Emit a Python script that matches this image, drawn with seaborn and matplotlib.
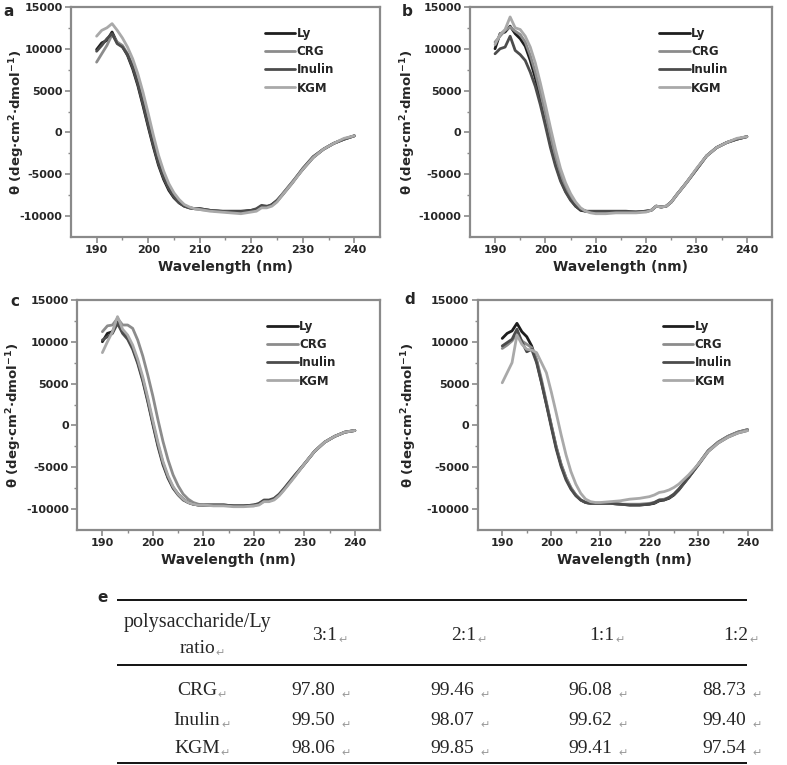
import numpy as np
import pandas as pd
import matplotlib
matplotlib.use('Agg')
import matplotlib.pyplot as plt
import seaborn as sns

# wavelength grid (nm) shared by all CD spectra
wavelength = [190, 191, 192, 193, 194, 195, 196, 197, 198, 199, 200, 201, 202, 203, 204, 205, 206, 207, 208, 209,
              210, 212, 214, 216, 218, 220, 221, 222, 223, 224, 225, 226, 228, 230, 232, 234, 236, 238, 240]
samples = ['Ly', 'CRG', 'Inulin', 'KGM']

# panel a, 3:1
ly_a = [9900, 10700, 11000, 12000, 10700, 10300, 9200, 7600, 5600, 3200, 700, -1700, -3900, -5600, -6900, -7800, -8400, -8800, -9000, -9100,
        -9100, -9300, -9400, -9400, -9400, -9300, -9200, -8800, -8900, -8600, -8100, -7400, -5900, -4400, -3000, -2000, -1300, -800, -400]
crg_a = [8400, 9400, 10400, 11700, 10800, 10400, 9400, 8000, 6000, 3700, 1200, -1300, -3500, -5300, -6600, -7600, -8300, -8700, -9000, -9100,
         -9200, -9300, -9400, -9500, -9500, -9400, -9200, -8800, -8900, -8700, -8200, -7400, -5900, -4300, -2900, -2000, -1300, -800, -400]
inulin_a = [9700, 10400, 11200, 11800, 10600, 10200, 9300, 7800, 5800, 3400, 900, -1500, -3700, -5400, -6700, -7700, -8400, -8800, -9000, -9100,
            -9100, -9300, -9400, -9500, -9500, -9300, -9100, -8700, -8800, -8700, -8200, -7500, -6000, -4300, -2900, -2000, -1300, -800, -400]
kgm_a = [11500, 12200, 12500, 13000, 12200, 11300, 10200, 8800, 7000, 4800, 2300, -300, -2700, -4600, -6100, -7200, -8000, -8600, -8900, -9100,
         -9200, -9400, -9500, -9600, -9700, -9500, -9400, -9000, -9000, -8800, -8300, -7500, -6000, -4400, -3000, -2000, -1300, -700, -400]

# panel b, 2:1
ly_b = [10000, 11800, 12000, 12700, 11800, 11200, 10300, 8600, 6500, 4000, 1300, -1400, -3700, -5600, -7000, -8000, -8800, -9300, -9400, -9500,
        -9500, -9500, -9500, -9500, -9500, -9400, -9300, -8800, -8900, -8800, -8300, -7500, -6000, -4400, -2800, -1800, -1200, -800, -500]
crg_b = [10800, 11500, 12200, 12600, 12100, 11700, 10800, 9200, 7200, 4800, 2200, -500, -3000, -5000, -6600, -7700, -8600, -9100, -9400, -9500,
         -9500, -9600, -9500, -9500, -9500, -9400, -9300, -8800, -8900, -8800, -8300, -7500, -6000, -4400, -2800, -1800, -1200, -800, -500]
inulin_b = [9400, 10000, 10200, 11500, 9800, 9300, 8600, 7200, 5500, 3300, 800, -1800, -4000, -5800, -7100, -8100, -8800, -9200, -9400, -9400,
            -9400, -9400, -9400, -9400, -9500, -9400, -9300, -8800, -8900, -8800, -8300, -7500, -6000, -4400, -2800, -1800, -1200, -800, -500]
kgm_b = [10500, 11700, 12300, 13800, 12500, 12300, 11500, 10200, 8300, 5900, 3300, 600, -2000, -4300, -6000, -7300, -8300, -9000, -9400, -9600,
         -9700, -9700, -9600, -9600, -9600, -9500, -9300, -8800, -8900, -8800, -8300, -7500, -6000, -4300, -2800, -1800, -1200, -700, -500]

# panel c, 1:1
ly_c = [10000, 11000, 11200, 12500, 11200, 10500, 9300, 7600, 5500, 3000, 300, -2300, -4500, -6200, -7400, -8200, -8800, -9200, -9400, -9500,
        -9500, -9500, -9500, -9600, -9600, -9500, -9400, -9000, -9000, -8800, -8300, -7600, -6100, -4600, -3100, -2000, -1300, -800, -600]
crg_c = [11200, 11900, 12000, 12800, 12000, 12000, 11600, 10200, 8300, 6000, 3500, 700, -1900, -4100, -5900, -7200, -8200, -8800, -9200, -9400,
         -9500, -9500, -9500, -9600, -9600, -9600, -9400, -9000, -9000, -8800, -8300, -7600, -6100, -4600, -3100, -2000, -1300, -800, -600]
inulin_c = [10200, 10600, 11000, 12200, 11000, 10300, 9100, 7400, 5300, 2800, 100, -2500, -4700, -6300, -7500, -8300, -8900, -9200, -9400, -9500,
            -9500, -9500, -9500, -9600, -9600, -9500, -9300, -8900, -8900, -8700, -8200, -7500, -6000, -4600, -3100, -2000, -1300, -800, -600]
kgm_c = [8700, 10000, 11200, 13000, 11500, 10800, 9600, 7900, 5800, 3300, 600, -2000, -4300, -6000, -7300, -8200, -8800, -9200, -9400, -9500,
         -9500, -9600, -9600, -9700, -9700, -9600, -9500, -9100, -9100, -8900, -8400, -7700, -6200, -4600, -3100, -2000, -1300, -800, -600]

# panel d, 1:2
ly_d = [10400, 11000, 11300, 12200, 11200, 10600, 9500, 7700, 5200, 2600, 0, -2600, -4700, -6300, -7500, -8300, -8900, -9200, -9300, -9300,
        -9300, -9300, -9400, -9500, -9500, -9400, -9300, -9000, -8900, -8700, -8300, -7700, -6200, -4600, -3000, -2000, -1300, -800, -500]
crg_d = [9200, 9600, 10100, 11000, 10100, 9700, 9300, 7900, 5500, 2800, 100, -2500, -4600, -6200, -7400, -8300, -8900, -9200, -9300, -9300,
         -9300, -9300, -9400, -9400, -9400, -9300, -9200, -8900, -8800, -8600, -8200, -7600, -6200, -4600, -3000, -2000, -1300, -800, -500]
inulin_d = [9500, 9900, 10300, 11500, 10000, 8800, 9100, 7500, 5100, 2500, -200, -2800, -4900, -6500, -7600, -8400, -8900, -9200, -9300, -9300,
            -9300, -9300, -9400, -9500, -9500, -9400, -9200, -8900, -8900, -8600, -8200, -7600, -6200, -4700, -3100, -2100, -1400, -900, -600]
kgm_d = [5100, 6300, 7500, 10800, 9700, 9100, 9000, 8700, 7500, 6300, 4000, 1500, -1100, -3500, -5500, -7000, -8100, -8800, -9100, -9200,
         -9200, -9100, -9000, -8800, -8700, -8500, -8300, -8000, -7900, -7700, -7400, -7000, -5900, -4600, -3100, -2100, -1400, -900, -600]

# table e
ratios = ['3:1', '2:1', '1:1', '1:2']
polysaccharides = ['CRG', 'Inulin', 'KGM']
crg_values = ['97.80', '99.46', '96.08', '88.73']
inulin_values = ['99.50', '98.07', '99.62', '99.40']
kgm_values = ['98.06', '99.85', '99.41', '97.54']

sns.set_style('ticks')
plt.rcParams['font.family'] = ['DejaVu Sans']
plt.rcParams['axes.unicode_minus'] = False
plt.rcParams['mathtext.default'] = 'bf'

palette = {'Ly': '#1e1e1e', 'CRG': '#8c8c8c', 'Inulin': '#4c4c4c', 'KGM': '#a9a9a9'}
frame = '#8a8a8a'

panels = {
    'a': [ly_a, crg_a, inulin_a, kgm_a],
    'b': [ly_b, crg_b, inulin_b, kgm_b],
    'c': [ly_c, crg_c, inulin_c, kgm_c],
    'd': [ly_d, crg_d, inulin_d, kgm_d],
}
boxes = {
    'a': [0.090, 0.690, 0.393, 0.301],
    'b': [0.597, 0.690, 0.384, 0.301],
    'c': [0.098, 0.307, 0.385, 0.301],
    'd': [0.607, 0.307, 0.374, 0.301],
}
ylabel_x = {'a': -0.142, 'b': -0.172, 'c': -0.175, 'd': -0.200}
letter_pos = {'a': (9, 11), 'b': (407, 11), 'c': (15, 302), 'd': (410, 300)}

fig = plt.figure(figsize=(7.87, 7.65), dpi=100)

for key, curves in panels.items():
    ax = fig.add_axes(boxes[key])
    df = pd.DataFrame({
        'Wavelength': wavelength * len(samples),
        'theta': sum(curves, []),
        'Sample': np.repeat(samples, len(wavelength)),
    })
    sns.lineplot(data=df, x='Wavelength', y='theta', hue='Sample', hue_order=samples,
                 palette=palette, linewidth=2, sort=False, ax=ax)
    ax.set_xlim(185, 245)
    ax.set_ylim(-12500, 15000)
    ax.set_xticks([190, 200, 210, 220, 230, 240])
    ax.set_yticks([-10000, -5000, 0, 5000, 10000, 15000])
    ax.set_xticks([195, 205, 215, 225, 235], minor=True)
    ax.set_yticks([-7500, -2500, 2500, 7500, 12500], minor=True)
    ax.tick_params(which='major', length=4, width=1.2, color=frame, labelsize=8, pad=2)
    ax.tick_params(which='minor', length=2.5, width=1, color=frame)
    for lab in ax.get_xticklabels() + ax.get_yticklabels():
        lab.set_fontweight('bold')
    for sp in ax.spines.values():
        sp.set_color(frame)
        sp.set_linewidth(1.6)
    ax.set_xlabel('Wavelength (nm)', fontsize=10, fontweight='bold', labelpad=3)
    ax.set_ylabel(r'θ (deg·cm$^{2}$·dmol$^{-1}$)', fontsize=9.5, fontweight='bold')
    ax.yaxis.set_label_coords(ylabel_x[key], 0.5)
    ax.legend(loc='upper left', bbox_to_anchor=(0.6, 0.95), frameon=False,
              prop={'weight': 'bold', 'size': 8.5}, handlelength=2.6,
              handletextpad=0.1, labelspacing=0.45, borderpad=0.2)
    px, py = letter_pos[key]
    fig.text(px / 787, 1 - py / 765, key, fontsize=11, fontweight='bold', ha='center', va='center')

# table e
tab = fig.add_axes([0, 0, 1, 1], zorder=-1)
tab.set_xlim(0, 787)
tab.set_ylim(765, 0)
tab.axis('off')
serif = ['Liberation Serif', 'DejaVu Serif']
mark = dict(fontsize=8, color='#999999', family=['DejaVu Sans'], va='baseline')

fig.text(103 / 787, 1 - 598 / 765, 'e', fontsize=11, fontweight='bold', ha='center', va='center')
for y in [600, 665, 763]:
    tab.plot([117, 747], [y, y], color='black', lw=1.3, solid_capstyle='butt')

def cell(x, y, s, gap=1.5, size=14):
    t = tab.text(x, y, s, family=serif, fontsize=size, ha='center', va='baseline')
    tab.annotate('↵', xy=(1, 0), xycoords=t, xytext=(gap, 1), textcoords='offset points', **mark)
    return t

tab.text(197, 627, 'polysaccharide/Ly', family=serif, fontsize=14.5, ha='center', va='baseline')
cell(197, 653, 'ratio', gap=0.5)
col_x = [325, 464, 602, 736]
for x, r in zip(col_x, ratios):
    cell(x, 640, r, gap=0.5)

rows = [crg_values, inulin_values, kgm_values]
row_y = [695, 725, 753]
for name, vals, y in zip(polysaccharides, rows, row_y):
    cell(197, y, name, gap=0.5)
    for x, v in zip(col_x, vals):
        cell(x - 12, y, v, gap=5)

fig.savefig('out.png', dpi=100)
